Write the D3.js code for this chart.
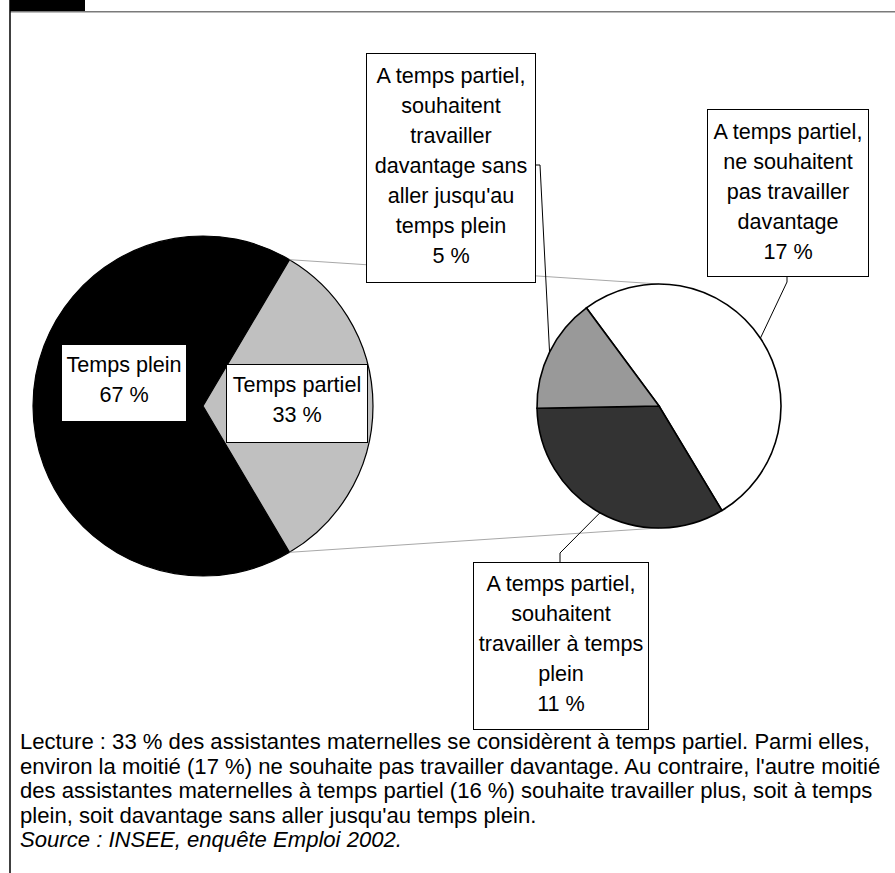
<!DOCTYPE html>
<html>
<head>
<meta charset="utf-8">
<script src="https://cdn.jsdelivr.net/npm/d3@7"></script>
<style>
  html, body { margin: 0; padding: 0; background: #fff; }
  svg { display: block; }
  text { font-family: "Liberation Sans", Arial, sans-serif; fill: #000; }
</style>
</head>
<body>
<svg id="chart" width="895" height="873"></svg>
<script>
// ---- Data ----
const mainCategories = ["Temps plein", "Temps partiel"];
const mainValues = [67, 33];
const mainLabels = [["Temps plein", "67 %"], ["Temps partiel", "33 %"]];
const mainColors = ["#000000", "#c0c0c0"];

const subCategories = [
  "A temps partiel, ne souhaitent pas travailler davantage",
  "A temps partiel, souhaitent travailler à temps plein",
  "A temps partiel, souhaitent travailler davantage sans aller jusqu'au temps plein"
];
const subValues = [17, 11, 5];
const subLabels = [
  ["A temps partiel,", "ne souhaitent", "pas travailler", "davantage", "17 %"],
  ["A temps partiel,", "souhaitent", "travailler à temps", "plein", "11 %"],
  ["A temps partiel,", "souhaitent", "travailler", "davantage sans", "aller jusqu'au", "temps plein", "5 %"]
];
const subColors = ["#ffffff", "#333333", "#999999"];

const noteLines = [
  "Lecture : 33 % des assistantes maternelles se considèrent à temps partiel. Parmi elles,",
  "environ la moitié (17 %) ne souhaite pas travailler davantage. Au contraire, l'autre moitié",
  "des assistantes maternelles à temps partiel (16 %) souhaite travailler plus, soit à temps",
  "plein, soit davantage sans aller jusqu'au temps plein."
];
const sourceLine = "Source : INSEE, enquête Emploi 2002.";

// ---- Layout ----
const svg = d3.select("#chart");
const W = 895, H = 873;

// frame
svg.append("rect").attr("x", 10).attr("y", 0).attr("width", 75).attr("height", 11).attr("fill", "#000");
svg.append("line").attr("x1", 10).attr("x2", W).attr("y1", 11.8).attr("y2", 11.8)
  .attr("stroke", "#7a7a7a").attr("stroke-width", 1.6);
svg.append("line").attr("x1", 10).attr("x2", 10).attr("y1", 0).attr("y2", H)
  .attr("stroke", "#000").attr("stroke-width", 1.5);

const c1 = {x: 203, y: 406, r: 170};
const c2 = {x: 659, y: 406, r: 122};
const deg = Math.PI / 180;

const total1 = d3.sum(mainValues);
const partSpan = mainValues[1] / total1 * 2 * Math.PI;
const pie1 = d3.pie().sort(null).value(d => d)
  .startAngle(Math.PI / 2 + partSpan / 2)
  .endAngle(Math.PI / 2 + partSpan / 2 + 2 * Math.PI);
const arcs1 = pie1(mainValues);

const pie2 = d3.pie().sort(null).value(d => d)
  .startAngle(-36.5 * deg).endAngle(-36.5 * deg + 2 * Math.PI);
const arcs2 = pie2(subValues);

const arc1 = d3.arc().innerRadius(0).outerRadius(c1.r);
const arc2 = d3.arc().innerRadius(0).outerRadius(c2.r);

const pt = (c, a, r) => [c.x + r * Math.sin(a), c.y - r * Math.cos(a)];

// left pie
const g1 = svg.append("g").attr("transform", `translate(${c1.x},${c1.y})`);
g1.selectAll("path").data(arcs1).join("path")
  .attr("d", arc1).attr("fill", (d, i) => mainColors[i])
  .attr("stroke", "#000").attr("stroke-width", 1.2);

// connector lines from partial slice to secondary pie top/bottom
const partArc = arcs1[1];
const pTop = pt(c1, partArc.startAngle, c1.r);
const pBot = pt(c1, partArc.endAngle, c1.r);
svg.append("line").attr("x1", pTop[0]).attr("y1", pTop[1]).attr("x2", c2.x).attr("y2", c2.y - c2.r)
  .attr("stroke", "#a8a8a8").attr("stroke-width", 1);
svg.append("line").attr("x1", pBot[0]).attr("y1", pBot[1]).attr("x2", c2.x).attr("y2", c2.y + c2.r)
  .attr("stroke", "#a8a8a8").attr("stroke-width", 1);

// right pie
const g2 = svg.append("g").attr("transform", `translate(${c2.x},${c2.y})`);
g2.selectAll("path").data(arcs2).join("path")
  .attr("d", arc2).attr("fill", (d, i) => subColors[i])
  .attr("stroke", "#000").attr("stroke-width", 1.6);

// label boxes
const FS = 21.6, LH = 30;
function box(x, y, w, h, lines, stroke, firstOff) {
  svg.append("rect").attr("x", x + 0.5).attr("y", y + 0.5).attr("width", w).attr("height", h)
    .attr("fill", "#fff").attr("stroke", stroke).attr("stroke-width", 1);
  lines.forEach((t, i) => {
    svg.append("text").attr("x", x + w / 2 + 0.5).attr("y", y + firstOff + i * LH + FS * 0.36)
      .attr("text-anchor", "middle").attr("font-size", FS).text(t);
  });
}

// leader lines (secondary pie)
const mid = d => (d.startAngle + d.endAngle) / 2;
const leaderAnchors = [
  [[787, 276], [787, 282]],
  [[560, 562], [560, 553]],
  [[535, 165], [540, 165]]
];
arcs2.forEach((d, i) => {
  const e = pt(c2, mid(d), c2.r);
  const [a, b] = leaderAnchors[i];
  svg.append("polyline")
    .attr("points", [a, b, e].map(p => p.join(",")).join(" "))
    .attr("fill", "none").attr("stroke", "#000").attr("stroke-width", 1);
});

box(61, 344, 125, 77, mainLabels[0], "#000", 20);
box(226, 364, 141, 78, mainLabels[1], "#000", 20);
box(707, 109, 161, 167, subLabels[0], "#000", 22);
box(473, 562, 175, 167, subLabels[1], "#000", 21);
box(366, 53, 169, 229, subLabels[2], "#000", 22);

// note
const NFS = 22.1, NLH = 24.6;
noteLines.forEach((t, i) => {
  svg.append("text").attr("x", 20).attr("y", 749 + i * NLH).attr("font-size", NFS).text(t);
});
svg.append("text").attr("x", 20).attr("y", 749 + 4 * NLH).attr("font-size", NFS)
  .attr("font-style", "italic").text(sourceLine);
</script>
</body>
</html>
